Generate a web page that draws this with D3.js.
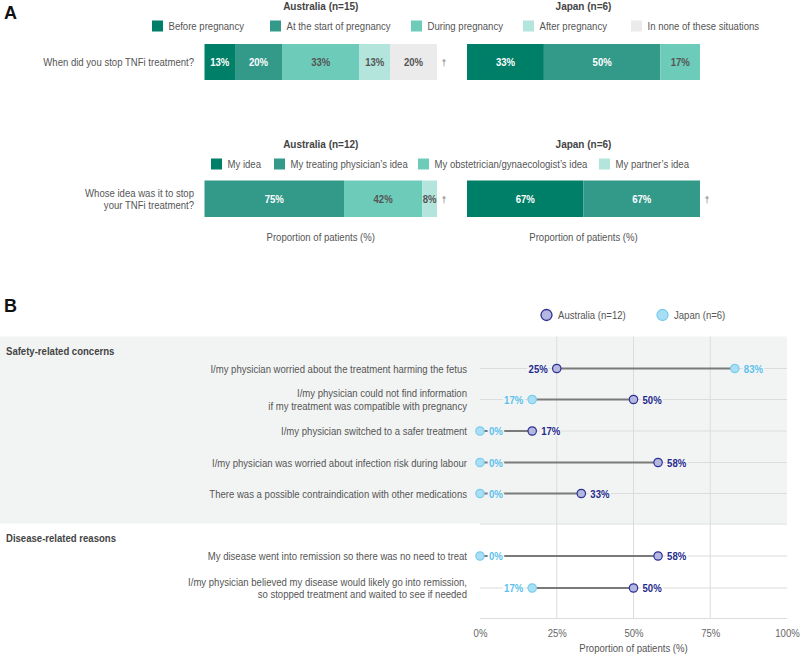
<!DOCTYPE html>
<html><head><meta charset="utf-8">
<script src="https://cdn.jsdelivr.net/npm/d3@7"></script>
<style>
body{margin:0;background:#fff;}
svg{font-family:"Liberation Sans",Arial,sans-serif;}
</style></head>
<body><svg id="c" width="800" height="655"></svg>
<script>
// ---------- DATA ----------
const stopCategories = ["Before pregnancy","At the start of pregnancy","During pregnancy","After pregnancy","In none of these situations"];
const stopAustralia = [13,20,33,13,20];
const stopJapan = [33,50,17,0,0];
const stopQuestion = ["When did you stop TNFi treatment?"];
const stopTitles = ["Australia (n=15)","Japan (n=6)"];

const ideaCategories = ["My idea","My treating physician\u2019s idea","My obstetrician/gynaecologist\u2019s idea","My partner\u2019s idea"];
const ideaAustralia = [0,75,42,8];
const ideaJapan = [67,67,0,0];
const ideaQuestion = ["Whose idea was it to stop","your TNFi treatment?"];
const ideaTitles = ["Australia (n=12)","Japan (n=6)"];

const reasonGroups = ["Safety-related concerns","Disease-related reasons"];
const reasonLabels = [
  ["I/my physician worried about the treatment harming the fetus"],
  ["I/my physician could not find information","if my treatment was compatible with pregnancy"],
  ["I/my physician switched to a safer treatment"],
  ["I/my physician was worried about infection risk during labour"],
  ["There was a possible contraindication with other medications"],
  ["My disease went into remission so there was no need to treat"],
  ["I/my physician believed my disease would likely go into remission,","so stopped treatment and waited to see if needed"]
];
const reasonGroupOf = [0,0,0,0,0,1,1];
const reasonAustralia = [25,50,17,58,33,58,50];
const reasonJapan = [83,17,0,0,0,0,17];
const reasonSeries = ["Australia (n=12)","Japan (n=6)"];
const xTicks = [0,25,50,75,100];

// ---------- STYLE ----------
const FS = 11, SX = 0.87;
const stopColors = ["#007f68","#339a8a","#6dcbb9","#b3e5dc","#ebebeb"];
const stopText = ["#fff","#fff","#555","#555","#555"];
const ideaColors = ["#007f68","#339a8a","#6dcbb9","#b3e5dc"];
const ideaText = ["#fff","#fff","#555","#555"];
const ausFill="#b4b7e0", ausStroke="#2e3192", ausText="#1f2a8c";
const japFill="#a9dff4", japStroke="#7cccec", japText="#5cc1ec";
const grey="#555";

const svg = d3.select("#c");

function T(parent, x, y, s, o={}){
  const t = parent.append("text")
    .attr("transform",`translate(${x},${y}) scale(${o.sx||SX},1)`)
    .attr("font-size",o.size||FS).attr("fill",o.fill||grey)
    .attr("text-anchor",o.anchor||"start").text(s);
  if(o.bold) t.attr("font-weight","bold");
  return t;
}

// panel letters
T(svg,4,18.5,"A",{size:18,bold:true,fill:"#111",sx:1});
T(svg,4,311.5,"B",{size:18,bold:true,fill:"#111",sx:1});

// ---------- Section A ----------
const barX = [[204.5,437],[467,700]];

function stackedBar(values, colors, tcolors, x0x1, y, h){
  const total = d3.sum(values);
  const sc = d3.scaleLinear().domain([0,total]).range(x0x1);
  let cum = 0;
  const segs = values.map((v,i)=>{const s={v,i,a:cum,b:cum+v}; cum+=v; return s;}).filter(s=>s.v>0);
  const g = svg.append("g");
  g.selectAll("rect").data(segs).join("rect")
    .attr("x",d=>sc(d.a)).attr("width",d=>sc(d.b)-sc(d.a))
    .attr("y",y).attr("height",h).attr("fill",d=>colors[d.i]);
  g.selectAll("text").data(segs).join("text")
    .attr("transform",d=>`translate(${(sc(d.a)+sc(d.b))/2},${y+h/2+4}) scale(${SX},1)`)
    .attr("text-anchor","middle").attr("font-size",FS).attr("font-weight","bold")
    .attr("fill",d=>tcolors[d.i]).text(d=>d.v+"%");
}
function dagger(x,y){ T(svg,x,y,"\u2020",{size:9,fill:"#777",anchor:"middle",sx:1}); }
function legendSquares(cats, colors, xs, y){
  cats.forEach((c,i)=>{
    svg.append("rect").attr("x",xs[i]).attr("y",y-5.5).attr("width",11).attr("height",11).attr("fill",colors[i]);
    T(svg,xs[i]+16.5,y+4,c);
  });
}

// chart 1
stopTitles.forEach((t,i)=>T(svg,(barX[i][0]+barX[i][1])/2,10,t,{size:11.5,bold:true,fill:"#444",anchor:"middle"}));
legendSquares(stopCategories, stopColors, [152,270,411,523,631], 26);
stackedBar(stopAustralia, stopColors, stopText, barX[0], 44, 36);
stackedBar(stopJapan, stopColors, stopText, barX[1], 44, 36);
dagger(444,66);
T(svg,194,66,stopQuestion[0],{anchor:"end"});

// chart 2
ideaTitles.forEach((t,i)=>T(svg,(barX[i][0]+barX[i][1])/2,148,t,{size:11.5,bold:true,fill:"#444",anchor:"middle"}));
legendSquares(ideaCategories, ideaColors, [211,274,418,599], 164);
stackedBar(ideaAustralia, ideaColors, ideaText, barX[0], 180.5, 36.5);
stackedBar(ideaJapan, ideaColors, ideaText, barX[1], 180.5, 36.5);
dagger(444,203); dagger(707,203);
ideaQuestion.forEach((l,i)=>T(svg,194,197+i*12,l,{anchor:"end"}));
barX.forEach(b=>T(svg,(b[0]+b[1])/2,240.5,"Proportion of patients (%)",{anchor:"middle"}));

// ---------- Section B ----------
const x = d3.scaleLinear().domain([0,100]).range([480,787]);
const rowY = [368.5,399.5,431,462.5,493.5,556,588];
const panelTop = 336.5, panelBot = 523.5, axisY = 618.5;

// legend
[[546.5,ausFill,ausStroke],[662.5,japFill,japStroke]].forEach((d,i)=>{
  svg.append("circle").attr("cx",d[0]).attr("cy",315).attr("r",5.5).attr("fill",d[1]).attr("stroke",d[2]).attr("stroke-width",1.3);
  T(svg,d[0]+11.5,319,reasonSeries[i]);
});

// safety panel background
svg.append("rect").attr("x",0).attr("y",panelTop).attr("width",787).attr("height",panelBot-panelTop).attr("fill","#f2f4f4");

// vertical grid
svg.append("g").selectAll("line").data(xTicks.filter(t=>t>0&&t<100)).join("line")
  .attr("x1",d=>x(d)).attr("x2",d=>x(d)).attr("y1",panelTop).attr("y2",axisY)
  .attr("stroke","#dcdcdc").attr("stroke-width",1);

// horizontal row gridlines + separators
const hl = rowY.concat([524,axisY]);
svg.append("g").selectAll("line").data(hl).join("line")
  .attr("x1",x(0)).attr("x2",x(100)).attr("y1",d=>d).attr("y2",d=>d)
  .attr("stroke","#dcdcdc").attr("stroke-width",1);

// group headings
T(svg,6,354.5,reasonGroups[0],{bold:true,fill:"#444"});
T(svg,6,541.5,reasonGroups[1],{bold:true,fill:"#444"});

// row labels
reasonLabels.forEach((lines,i)=>{
  const n = lines.length;
  lines.forEach((l,j)=>T(svg,467,rowY[i]+4+(j-(n-1)/2)*12.5,l,{anchor:"end"}));
});

// connectors
svg.append("g").selectAll("line").data(rowY).join("line")
  .attr("x1",(d,i)=>x(reasonAustralia[i])).attr("x2",(d,i)=>x(reasonJapan[i]))
  .attr("y1",d=>d).attr("y2",d=>d).attr("stroke","#7a7a7a").attr("stroke-width",2);

// value labels
rowY.forEach((y,i)=>{
  const bg = reasonGroupOf[i]===0 ? "#f2f4f4" : "#fff";
  const a = reasonAustralia[i], j = reasonJapan[i];
  [{v:a,other:j,c:ausText},{v:j,other:a,c:japText}].forEach(it=>{
    const left = it.v < it.other && it.v>0;
    T(svg,x(it.v)+(left?-9:9),y+4,it.v+"%",{anchor:left?"end":"start",bold:true,fill:it.c})
      .attr("stroke",bg).attr("stroke-width",4).attr("paint-order","stroke");
  });
});

// dots
svg.append("g").selectAll("circle").data(rowY).join("circle")
  .attr("cx",(d,i)=>x(reasonJapan[i])).attr("cy",d=>d).attr("r",4.2)
  .attr("fill",japFill).attr("stroke",japStroke).attr("stroke-width",1.2);
svg.append("g").selectAll("circle").data(rowY).join("circle")
  .attr("cx",(d,i)=>x(reasonAustralia[i])).attr("cy",d=>d).attr("r",4.2)
  .attr("fill",ausFill).attr("stroke",ausStroke).attr("stroke-width",1.2);

// axis
const ax = svg.append("g").attr("transform",`translate(0,${axisY})`)
  .call(d3.axisBottom(x).tickValues(xTicks).tickFormat(d=>d+"%").tickSize(0).tickPadding(11));
ax.select(".domain").remove();
ax.selectAll("text").attr("font-size",FS).attr("fill","#666").attr("font-family",null)
  .attr("transform",`scale(${SX},1)`);
T(svg,x(50),651.5,"Proportion of patients (%)",{anchor:"middle"});
</script></body></html>
